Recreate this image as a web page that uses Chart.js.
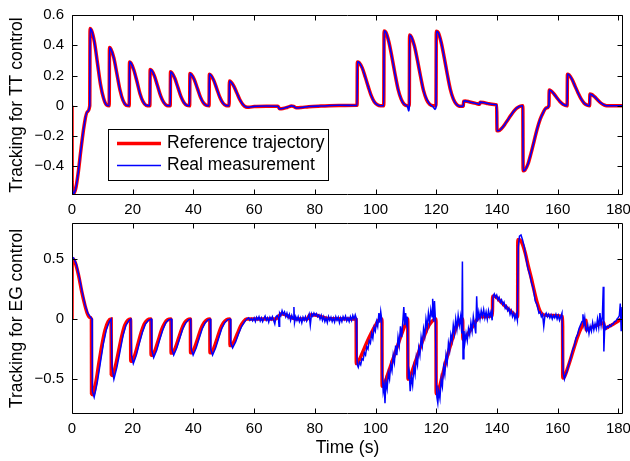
<!DOCTYPE html>
<html>
<head>
<meta charset="utf-8">
<script src="https://cdn.jsdelivr.net/npm/chart.js@4"></script>
<style>
  html, body { margin: 0; padding: 0; background: #fff; }
  #wrap { position: relative; width: 630px; height: 461px; }
  canvas { position: absolute; left: 0; }
</style>
</head>
<body>
<div id="wrap">
  <canvas id="ttChart" width="630" height="222" style="top:0px"></canvas>
  <canvas id="egChart" width="630" height="243" style="top:218px"></canvas>
</div>
<script>
// axis ticks
const xTicks = [0, 20, 40, 60, 80, 100, 120, 140, 160, 180];
const ttTicks = [-0.4, -0.2, 0, 0.2, 0.4, 0.6];
const ttTickLabels = ['\u22120.4', '\u22120.2', '0', '0.2', '0.4', '0.6'];
const egTicks = [-0.5, 0, 0.5];
const egTickLabels = ['\u22120.5', '0', '0.5'];
const legendLabels = ['Reference trajectory', 'Real measurement'];

// TT control: [time (s), value]
const ttRef = [
  [0,0],[0.05,-0.50],[0.5,-0.58],[1.2,-0.55],[2.0,-0.45],[3.0,-0.28],[4.0,-0.13],[5.0,-0.04],[5.85,0],
  [5.95,0.51],[6.4,0.50],[7.4,0.42],[8.4,0.28],[9.4,0.14],[10.4,0.05],[11.4,0.005],[12.25,0],
  [12.35,0.385],[12.8,0.375],[13.8,0.315],[14.8,0.21],[15.8,0.105],[16.8,0.035],[17.8,0.004],[18.85,0],
  [18.95,0.29],[19.4,0.283],[20.4,0.235],[21.4,0.16],[22.4,0.08],[23.4,0.027],[24.4,0.003],[25.65,0],
  [25.75,0.24],[26.2,0.234],[27.2,0.195],[28.2,0.13],[29.2,0.065],[30.2,0.022],[31.2,0.002],[32.35,0],
  [32.45,0.224],[32.9,0.218],[33.9,0.18],[34.9,0.12],[35.9,0.06],[36.9,0.02],[37.9,0.002],[38.75,0],
  [38.85,0.213],[39.3,0.207],[40.3,0.172],[41.3,0.115],[42.3,0.057],[43.3,0.019],[44.3,0.002],[45.15,0],
  [45.25,0.209],[45.7,0.203],[46.7,0.168],[47.7,0.112],[48.7,0.056],[49.7,0.018],[50.7,0.002],[51.75,0],
  [51.85,0.163],[52.3,0.158],[53.3,0.13],[54.3,0.085],[55.3,0.04],[56.3,0.008],[57.3,-0.008],[58.3,-0.01],
  [60,-0.005],[64,-0.003],[67.8,-0.003],[68.4,-0.02],[69.5,-0.018],[71,-0.01],[72.3,-0.002],[73.0,-0.004],
  [73.9,-0.014],[75.5,-0.012],[78,-0.006],[82,-0.002],[88,0.002],[93.9,0.003],
  [94.0,0.29],[94.6,0.285],[95.6,0.25],[96.6,0.19],[97.6,0.125],[98.6,0.065],[99.6,0.025],[100.6,0.006],[101.6,0],[102.7,0],
  [102.8,0.495],[103.4,0.485],[104.4,0.42],[105.4,0.32],[106.4,0.21],[107.4,0.11],[108.4,0.045],[109.4,0.01],[110.5,0],[111.1,0],
  [111.2,0.467],[111.8,0.455],[112.8,0.395],[113.8,0.30],[114.8,0.195],[115.8,0.10],[116.8,0.04],[117.8,0.01],[119.0,0],[119.9,0],
  [120.0,0.493],[120.6,0.485],[121.6,0.42],[122.6,0.32],[123.6,0.21],[124.6,0.11],[125.6,0.045],[126.6,0.01],[127.6,-0.003],[128.4,-0.004],[128.9,0],
  [129.0,0.03],[129.5,0.032],[131,0.025],[133,0.016],[134.3,0.01],[134.4,0.024],[135.5,0.022],[137,0.014],[139,0.008],[139.9,0.006],
  [140.0,-0.165],[140.5,-0.165],[141.5,-0.15],[142.5,-0.125],[143.5,-0.095],[144.5,-0.065],[145.5,-0.037],[146.5,-0.016],[147.5,-0.004],[148.5,0],
  [148.6,-0.43],[149.2,-0.425],[150.2,-0.385],[151.2,-0.315],[152.2,-0.235],[153.2,-0.155],[154.2,-0.09],[155.2,-0.045],[156.2,-0.015],[157.1,0],
  [157.2,0.104],[157.7,0.1],[158.7,0.08],[159.7,0.053],[160.7,0.028],[161.7,0.01],[163.1,0],
  [163.2,0.209],[163.7,0.205],[164.7,0.175],[165.7,0.13],[166.7,0.085],[167.7,0.045],[168.7,0.017],[169.7,0.004],[170.5,0],
  [170.6,0.077],[171.1,0.075],[172.1,0.06],[173.1,0.04],[174.1,0.02],[175.1,0.007],[176.1,0],[181.5,0]
];
const ttMeas = [
  [0,0],[0.05,-0.50],[0.5,-0.58],[1.2,-0.55],[2.0,-0.45],[3.0,-0.28],[4.0,-0.13],[5.0,-0.04],[5.85,0],
  [5.95,0.51],[6.4,0.50],[7.4,0.42],[8.4,0.28],[9.4,0.14],[10.4,0.05],[11.4,0.005],[12.25,0],
  [12.35,0.385],[12.8,0.375],[13.8,0.315],[14.8,0.21],[15.8,0.105],[16.8,0.035],[17.8,0.004],[18.85,0],
  [18.95,0.29],[19.4,0.283],[20.4,0.235],[21.4,0.16],[22.4,0.08],[23.4,0.027],[24.4,0.003],[25.65,0],
  [25.75,0.24],[26.2,0.234],[27.2,0.195],[28.2,0.13],[29.2,0.065],[30.2,0.022],[31.2,0.002],[32.35,0],
  [32.45,0.224],[32.9,0.218],[33.9,0.18],[34.9,0.12],[35.9,0.06],[36.9,0.02],[37.9,0.002],[38.75,0],
  [38.85,0.213],[39.3,0.207],[40.3,0.172],[41.3,0.115],[42.3,0.057],[43.3,0.019],[44.3,0.002],[45.15,0],
  [45.25,0.209],[45.7,0.203],[46.7,0.168],[47.7,0.112],[48.7,0.056],[49.7,0.018],[50.7,0.002],[51.75,0],
  [51.85,0.163],[52.3,0.158],[53.3,0.13],[54.3,0.085],[55.3,0.04],[56.3,0.008],[57.3,-0.008],[58.3,-0.01],
  [60,-0.004],[64,-0.002],[67.8,-0.003],[68.4,-0.021],[69.5,-0.018],[71,-0.009],[72.3,-0.001],[73.0,-0.004],
  [73.9,-0.015],[75.5,-0.012],[78,-0.005],[82,-0.002],[88,0.003],[93.9,0.002],
  [94.0,0.29],[94.6,0.285],[95.6,0.25],[96.6,0.19],[97.6,0.125],[98.6,0.065],[99.6,0.025],[100.6,0.006],[101.6,0],[102.7,0],
  [102.8,0.495],[103.4,0.485],[104.4,0.42],[105.4,0.32],[106.4,0.21],[107.4,0.11],[108.4,0.045],[109.4,0.01],[110.5,-0.005],[110.9,-0.035],[111.1,-0.01],
  [111.2,0.467],[111.8,0.455],[112.8,0.395],[113.8,0.30],[114.8,0.195],[115.8,0.10],[116.8,0.045],[117.8,0.012],[119.0,-0.008],[119.6,-0.025],[119.9,-0.01],
  [120.0,0.493],[120.6,0.485],[121.6,0.42],[122.6,0.32],[123.6,0.21],[124.6,0.11],[125.6,0.045],[126.6,0.01],[127.6,-0.003],[128.4,-0.004],[128.9,0],
  [129.0,0.03],[129.5,0.032],[131,0.025],[133,0.016],[134.3,0.01],[134.4,0.024],[135.5,0.022],[137,0.014],[139,0.008],[139.9,0.006],
  [140.0,-0.165],[140.5,-0.165],[141.5,-0.15],[142.5,-0.125],[143.5,-0.095],[144.5,-0.065],[145.5,-0.037],[146.5,-0.016],[147.5,-0.004],[148.5,0],
  [148.6,-0.43],[149.2,-0.425],[150.2,-0.385],[151.2,-0.315],[152.2,-0.235],[153.2,-0.155],[154.2,-0.09],[155.2,-0.045],[156.2,-0.015],[157.1,0],
  [157.2,0.104],[157.7,0.1],[158.7,0.08],[159.7,0.053],[160.7,0.028],[161.7,0.01],[163.1,0],
  [163.2,0.209],[163.7,0.205],[164.7,0.175],[165.7,0.13],[166.7,0.085],[167.7,0.045],[168.7,0.017],[169.7,0.004],[170.5,0],
  [170.6,0.077],[171.1,0.075],[172.1,0.06],[173.1,0.04],[174.1,0.02],[175.1,0.007],[176.1,0],[181.5,0]
];

// EG control: [time (s), value]
const egRef = [
  [0,0],[0.05,0.49],[0.4,0.5],[1.2,0.46],[2.2,0.36],[3.2,0.23],[4.2,0.12],[5.0,0.05],[5.8,0.015],[6.4,0],
  [6.45,-0.62],[6.9,-0.63],[7.9,-0.52],[8.9,-0.36],[9.9,-0.21],[10.9,-0.09],[11.9,-0.02],[12.9,0],
  [12.95,-0.46],[13.4,-0.47],[14.4,-0.38],[15.4,-0.26],[16.4,-0.14],[17.4,-0.05],[18.4,-0.01],[19.3,0],
  [19.35,-0.35],[19.8,-0.35],[20.8,-0.29],[21.8,-0.2],[22.8,-0.11],[23.8,-0.04],[24.8,-0.008],[26.0,0],
  [26.05,-0.3],[26.5,-0.3],[27.5,-0.25],[28.5,-0.17],[29.5,-0.09],[30.5,-0.035],[31.5,-0.006],[32.6,0],
  [32.65,-0.283],[33.1,-0.283],[34.1,-0.235],[35.1,-0.16],[36.1,-0.085],[37.1,-0.03],[38.1,-0.005],[39.0,0],
  [39.05,-0.28],[39.5,-0.28],[40.5,-0.23],[41.5,-0.155],[42.5,-0.08],[43.5,-0.03],[44.5,-0.005],[45.4,0],
  [45.45,-0.28],[45.9,-0.28],[46.9,-0.23],[47.9,-0.155],[48.9,-0.08],[49.9,-0.03],[50.9,-0.005],[52.0,0],
  [52.05,-0.22],[52.5,-0.22],[53.5,-0.18],[54.5,-0.12],[55.5,-0.06],[56.5,-0.02],[57.5,0],
  [67,0],[68,0.02],[69,0.045],[70,0.04],[72,0.015],[74,0],[77.5,0],[78.3,0.035],[80,0.035],[82,0.02],[85,0.003],[93.6,0],
  [93.65,-0.37],[94.2,-0.36],[95.5,-0.29],[97,-0.2],[98.5,-0.12],[100,-0.05],[101.5,0],[102.1,0],
  [102.15,-0.56],[102.7,-0.55],[104,-0.46],[105.5,-0.35],[107,-0.24],[108.5,-0.13],[110,-0.03],[110.6,0],
  [110.65,-0.5],[111.2,-0.49],[112.5,-0.4],[114,-0.29],[115.5,-0.18],[117,-0.08],[118.5,-0.02],[119.9,0],
  [119.95,-0.62],[120.5,-0.61],[122,-0.47],[123.5,-0.32],[125,-0.19],[126.5,-0.07],[127.5,-0.02],[128.7,0],
  [128.75,-0.17],[129.5,-0.16],[130.5,-0.12],[131.5,-0.08],[132.5,-0.04],[133.5,0],[134.5,0.02],[138.5,0.03],
  [138.55,0.19],[139.3,0.19],[141,0.15],[143,0.1],[145,0.055],[146.8,0.02],
  [146.85,0.66],[147.4,0.66],[148.3,0.63],[149.3,0.55],[150.3,0.44],[151.3,0.34],[152.3,0.23],[153.3,0.13],[154.3,0.06],[155.3,0.035],[158,0.03],[161.6,0.02],
  [161.65,-0.49],[162.2,-0.48],[163.5,-0.39],[165,-0.27],[166.5,-0.15],[168,-0.06],[169.3,-0.01],
  [169.4,-0.09],[171,-0.07],[173,-0.05],[175.2,-0.03],[175.3,-0.08],[177,-0.06],[179,-0.03],[181.5,0.01]
];
const egMeas = [
  [0,0.5],[0.5,0.51],[1.4,0.46],[2.4,0.35],[3.4,0.22],[4.4,0.11],[5.2,0.05],[6.0,0.02],[6.6,0],
  [6.7,-0.6],[7.3,-0.65],[8.3,-0.53],[9.3,-0.37],[10.3,-0.21],[11.3,-0.09],[12.3,-0.02],[12.9,0],
  [13.2,-0.4],[13.8,-0.5],[14.8,-0.4],[15.8,-0.27],[16.8,-0.14],[17.8,-0.05],[18.8,-0.01],[19.4,0],
  [19.6,-0.3],[20.2,-0.37],[21.2,-0.3],[22.2,-0.2],[23.2,-0.11],[24.2,-0.04],[25.2,-0.01],[26.1,0],
  [26.3,-0.26],[26.9,-0.32],[27.9,-0.26],[28.9,-0.17],[29.9,-0.09],[30.9,-0.03],[31.9,-0.005],[32.7,0],
  [32.9,-0.25],[33.5,-0.3],[34.5,-0.24],[35.5,-0.16],[36.5,-0.08],[37.5,-0.03],[38.5,-0.004],[39.1,0],
  [39.3,-0.25],[39.9,-0.3],[40.9,-0.24],[41.9,-0.16],[42.9,-0.08],[43.9,-0.03],[44.9,-0.004],[45.5,0],
  [45.7,-0.25],[46.3,-0.3],[47.3,-0.24],[48.3,-0.16],[49.3,-0.08],[50.3,-0.03],[51.3,-0.004],[52.1,0],
  [52.3,-0.2],[52.9,-0.24],[53.9,-0.19],[54.9,-0.12],[55.9,-0.06],[56.9,-0.02],[57.6,0],
  [58.2,0.01],[58.6,-0.01],[59.1,0.005],[59.5,-0.015],[60.0,0.01],[60.4,-0.02],[60.8,0.015],[61.2,-0.005],
  [61.6,0.02],[62.0,-0.015],[62.4,0.01],[62.8,-0.02],[63.2,0.005],[63.6,0.025],[64.0,-0.01],[64.4,0.01],
  [64.8,-0.025],[65.2,0.015],[65.6,-0.005],[66.0,0.02],[66.4,-0.01],[66.8,-0.04],[67.2,0.02],[67.6,0.03],
  [68.0,0.01],[68.2,-0.06],[68.4,0.05],[68.8,0.03],[69.2,0.07],[69.6,0.04],[70.0,0.06],[70.4,0.02],[70.8,0.05],
  [71.2,0.01],[71.6,0.04],[72.0,-0.01],[72.4,0.03],[72.8,0.0],[73.1,0.1],[73.3,-0.03],[73.7,0.02],
  [74.1,-0.01],[74.5,0.02],[74.9,-0.02],[75.3,0.01],[75.7,-0.03],[76.1,0.015],[76.5,-0.01],[76.9,0.02],
  [77.3,-0.015],[77.7,0.01],[78.1,0.04],[78.5,-0.05],[78.9,0.045],[79.3,0.025],[79.7,0.05],[80.1,0.03],
  [80.5,0.045],[80.9,0.02],[81.3,0.035],[81.7,0.0],[82.1,0.03],[82.5,-0.01],[82.9,0.02],[83.3,-0.02],
  [83.7,0.01],[84.1,-0.03],[84.5,0.02],[84.9,-0.01],[85.3,0.015],[85.7,-0.02],[86.1,0.01],[86.5,-0.025],
  [86.9,0.02],[87.3,-0.01],[87.7,0.015],[88.1,-0.03],[88.5,0.01],[88.9,-0.02],[89.3,0.02],[89.7,-0.005],
  [90.1,0.025],[90.5,-0.015],[90.9,0.01],[91.3,-0.02],[91.7,0.02],[92.1,-0.01],[92.5,0.03],[92.9,0.0],
  [93.3,0.035],[93.6,0.01],
  [93.8,-0.3],[94.0,-0.38],[94.3,-0.4],[94.7,-0.36],[95.1,-0.38],[95.5,-0.33],[95.9,-0.34],[96.3,-0.28],
  [96.7,-0.3],[97.1,-0.23],[97.5,-0.25],[97.9,-0.18],[98.3,-0.2],[98.7,-0.12],[99.1,-0.16],[99.5,-0.07],
  [99.9,-0.1],[100.3,-0.02],[100.7,-0.06],[101.1,0.05],[101.4,-0.03],[101.7,0.06],[102.0,0.0],
  [102.2,-0.45],[102.5,-0.6],[102.8,-0.55],[103.1,-0.7],[103.4,-0.52],[103.8,-0.58],[104.2,-0.45],[104.6,-0.5],
  [105.0,-0.38],[105.4,-0.43],[105.8,-0.3],[106.2,-0.36],[106.6,-0.22],[107.0,-0.3],[107.4,-0.15],[107.8,-0.22],
  [108.2,-0.06],[108.6,-0.15],[109.0,-0.01],[109.3,0.1],[109.6,-0.05],[109.9,0.05],[110.2,-0.03],[110.5,0.02],
  [110.8,-0.5],[111.1,-0.45],[111.4,-0.6],[111.8,-0.48],[112.2,-0.55],[112.6,-0.4],[113.0,-0.46],[113.4,-0.32],
  [113.8,-0.38],[114.2,-0.24],[114.6,-0.3],[115.0,-0.15],[115.4,-0.22],[115.8,-0.08],[116.2,-0.14],[116.6,0.0],
  [117.0,-0.07],[117.4,0.05],[117.8,-0.03],[118.2,0.08],[118.6,0.02],[118.8,0.17],[119.1,-0.02],[119.4,0.15],[119.7,0.0],
  [120.0,-0.55],[120.2,-0.65],[120.5,-0.7],[120.8,-0.6],[121.2,-0.66],[121.6,-0.5],[122.0,-0.56],[122.4,-0.4],
  [122.8,-0.46],[123.2,-0.3],[123.6,-0.36],[124.0,-0.2],[124.4,-0.26],[124.8,-0.13],[125.2,-0.18],[125.6,-0.05],
  [126.0,-0.12],[126.4,0.0],[126.8,-0.08],[127.2,0.03],[127.6,-0.05],[128.0,0.02],[128.4,-0.12],[128.6,0.48],
  [128.8,-0.33],[129.1,-0.1],[129.4,-0.2],[129.8,-0.12],[130.2,-0.18],[130.6,-0.08],[131.0,-0.13],[131.4,-0.03],
  [131.8,-0.1],[132.2,0.02],[132.6,-0.05],[133.0,-0.12],[133.3,0.19],[133.6,-0.02],[134.0,0.06],[134.4,0.0],
  [134.8,0.07],[135.2,0.02],[135.6,0.08],[136.0,0.01],[136.4,0.06],[136.8,0.0],[137.2,0.07],[137.6,0.02],
  [138.0,0.06],[138.4,-0.01],
  [138.7,0.19],[139.1,0.21],[139.5,0.18],[139.9,0.2],[140.3,0.16],[140.7,0.18],[141.1,0.14],[141.5,0.16],
  [141.9,0.12],[142.3,0.14],[142.7,0.09],[143.1,0.11],[143.5,0.07],[143.9,0.09],[144.3,0.04],[144.7,0.07],
  [145.1,0.02],[145.5,0.05],[145.9,0.0],[146.3,0.04],[146.7,-0.01],
  [147.0,0.6],[147.4,0.69],[147.9,0.7],[148.4,0.66],[149.0,0.6],[149.6,0.5],[150.2,0.42],[150.8,0.37],
  [151.4,0.3],[152.0,0.25],[152.6,0.15],[153.2,0.12],[153.8,0.05],[154.2,0.06],[154.6,0.02],[155.0,0.04],
  [155.4,-0.06],[155.8,0.03],[156.2,0.05],[156.6,0.02],[157.0,0.04],[157.4,0.01],[157.8,0.035],[158.2,0.0],
  [158.6,0.03],[159.0,0.01],[159.4,0.04],[159.8,0.0],[160.2,0.03],[160.6,-0.01],[161.0,0.02],[161.4,0.05],
  [161.8,-0.45],[162.2,-0.5],[162.6,-0.46],[163.0,-0.44],[163.5,-0.39],[164.0,-0.35],[164.5,-0.3],[165.0,-0.25],
  [165.5,-0.22],[166.0,-0.16],[166.5,-0.13],[167.0,-0.08],[167.5,-0.05],[168.0,-0.02],[168.3,0.04],[168.6,-0.04],
  [168.9,0.01],[169.2,-0.08],[169.5,-0.1],[169.9,-0.05],[170.3,-0.12],[170.7,-0.06],[171.1,-0.1],[171.5,-0.03],
  [171.9,-0.09],[172.3,-0.04],[172.7,-0.08],[173.1,0.0],[173.5,-0.07],[173.9,0.05],[174.3,-0.05],[174.7,0.02],
  [175.0,0.27],[175.2,-0.27],[175.5,-0.05],[175.9,-0.08],[176.3,-0.06],[176.7,-0.07],[177.1,-0.05],[177.5,-0.06],
  [177.9,-0.04],[178.3,-0.04],[178.7,-0.02],[179.1,-0.02],[179.5,0.0],[179.9,0.01],[180.3,0.03],[180.6,0.13],
  [180.9,-0.1],[181.2,0.1],[181.5,-0.05]
];

const FONT = '"Liberation Sans", Arial, Helvetica, sans-serif';
Chart.defaults.font.family = FONT;
Chart.defaults.color = '#000';

const toXY = arr => arr.map(p => ({ x: p[0], y: p[1] }));

// matlab style box with inward ticks
const frameBox = {
  id: 'frameBox',
  afterDatasetsDraw(chart) {
    const { ctx, chartArea: a, scales } = chart;
    const L = Math.round(a.left) + 0.5, R = Math.round(a.right) - 0.5;
    const T = Math.round(a.top) + 0.5, B = Math.round(a.bottom) - 0.5;
    ctx.save();
    ctx.strokeStyle = '#000';
    ctx.lineWidth = 1;
    ctx.beginPath();
    ctx.rect(L, T, R - L, B - T);
    scales.x.ticks.forEach(t => {
      const px = Math.round(scales.x.getPixelForValue(t.value)) + 0.5;
      ctx.moveTo(px, B); ctx.lineTo(px, B - 5);
      ctx.moveTo(px, T); ctx.lineTo(px, T + 5);
    });
    scales.y.ticks.forEach(t => {
      const py = Math.round(scales.y.getPixelForValue(t.value)) + 0.5;
      ctx.moveTo(L, py); ctx.lineTo(L + 5, py);
      ctx.moveTo(R, py); ctx.lineTo(R - 5, py);
    });
    ctx.stroke();
    ctx.restore();
  }
};

const legendBox = {
  id: 'legendBox',
  afterDraw(chart) {
    const ctx = chart.ctx;
    const colors = ['#ff0000', '#0000ff'];
    const widths = [3.5, 1.5];
    ctx.save();
    ctx.fillStyle = '#fff';
    ctx.fillRect(108.5, 129.5, 220, 51);
    ctx.strokeStyle = '#000';
    ctx.lineWidth = 1;
    ctx.strokeRect(108.5, 129.5, 220, 51);
    legendLabels.forEach((txt, i) => {
      const y = 143.5 + i * 22;
      ctx.strokeStyle = colors[i];
      ctx.lineWidth = widths[i];
      ctx.beginPath();
      ctx.moveTo(117, y);
      ctx.lineTo(161, y);
      ctx.stroke();
      ctx.fillStyle = '#000';
      ctx.font = '17.5px ' + FONT;
      ctx.textBaseline = 'middle';
      ctx.fillText(txt, 167, y);
    });
    ctx.restore();
  }
};

function makeChart(id, refData, measData, yMin, yMax, yTicks, yLabels, yTitle, opts) {
  return new Chart(document.getElementById(id).getContext('2d'), {
    type: 'line',
    data: {
      datasets: [
        {
          label: legendLabels[0],
          data: toXY(refData),
          borderColor: '#ff0000',
          borderWidth: 3.5,
          pointRadius: 0,
          cubicInterpolationMode: 'monotone',
          order: 1
        },
        {
          label: legendLabels[1],
          data: toXY(measData),
          borderColor: '#0000ff',
          borderWidth: opts.measWidth,
          pointRadius: 0,
          cubicInterpolationMode: opts.measSmooth ? 'monotone' : 'default',
          tension: 0,
          order: 0
        }
      ]
    },
    options: {
      responsive: false,
      animation: false,
      layout: { padding: { top: opts.padTop, right: 7, left: 0, bottom: 0 } },
      plugins: { legend: { display: false }, tooltip: { enabled: false } },
      scales: {
        x: {
          type: 'linear',
          min: 0,
          max: 181.5,
          afterBuildTicks: s => { s.ticks = xTicks.map(v => ({ value: v })); },
          afterFit: s => { s.height = opts.xHeight; s.paddingLeft = 0; s.paddingRight = 0; },
          grid: { display: false, drawTicks: false },
          border: { display: false },
          ticks: { font: { size: 15 }, padding: 6, maxRotation: 0, callback: v => String(v) },
          title: {
            display: !!opts.xTitle,
            text: opts.xTitle || '',
            font: { size: 17.5 },
            padding: { top: 0, bottom: 2 }
          }
        },
        y: {
          min: yMin,
          max: yMax,
          afterBuildTicks: s => { s.ticks = yTicks.map(v => ({ value: v })); },
          afterFit: s => { s.width = 72; s.paddingTop = 0; s.paddingBottom = 0; },
          grid: { display: false, drawTicks: false },
          border: { display: false },
          ticks: {
            font: { size: 15 },
            padding: 8,
            callback: v => yLabels[yTicks.findIndex(t => Math.abs(t - v) < 1e-9)]
          },
          title: {
            display: true,
            text: yTitle,
            font: { size: 17.5 },
            padding: { top: 6.5, bottom: 0 }
          }
        }
      }
    },
    plugins: opts.legend ? [frameBox, legendBox] : [frameBox]
  });
}

makeChart('ttChart', ttRef, ttMeas, -0.59, 0.6, ttTicks, ttTickLabels, 'Tracking for TT control',
  { padTop: 15, xHeight: 27, measWidth: 1.6, measSmooth: true, legend: true });
makeChart('egChart', egRef, egMeas, -0.79, 0.8, egTicks, egTickLabels, 'Tracking for EG control',
  { padTop: 5, xHeight: 47, measWidth: 1.5, measSmooth: false, legend: false, xTitle: 'Time (s)' });
</script>
</body>
</html>
